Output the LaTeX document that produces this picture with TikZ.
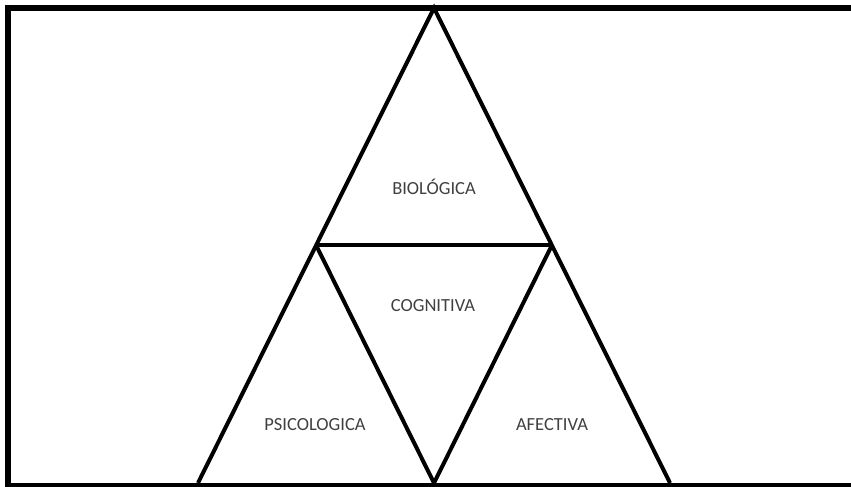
\documentclass[tikz,border=0pt]{standalone}
\usepackage{fontspec}
\setmainfont{Carlito}
\definecolor{labelgray}{HTML}{404040}
\begin{document}
\begin{tikzpicture}[x=1pt,y=1pt,
  frameline/.style={line width=5.5pt},
  edge/.style={line width=4pt, line join=miter},
  label/.style={font=\fontsize{18.5}{22}\selectfont, text=labelgray, inner sep=0pt}]
\useasboundingbox (0,0) rectangle (851,487);
\begin{scope}
  \clip (0,0) rectangle (851,487);
  % outer frame (right and bottom edges run off the page)
  \draw[frameline] (8,1.5) rectangle (856,479);
\end{scope}
% corner points of the big triangle and its subdivision
\coordinate (top) at (434,479);
\coordinate (ml) at (316,242);
\coordinate (mr) at (552,242);
\coordinate (bl) at (198,4);
\coordinate (bm) at (434,4);
\coordinate (br) at (670,4);
\draw[edge] (bl) -- (top) -- (br);
\draw[edge] (ml) -- (mr);
\draw[edge] (ml) -- (bm) -- (mr);
% labels of the four regions
\node[label] (bio) at (434,300) {BIOLÓGICA};
\node[label] (cog) at (433,181) {COGNITIVA};
\node[label] (psi) at (315,62) {PSICOLOGICA};
\node[label] (afe) at (552,62) {AFECTIVA};
\end{tikzpicture}
\end{document}
